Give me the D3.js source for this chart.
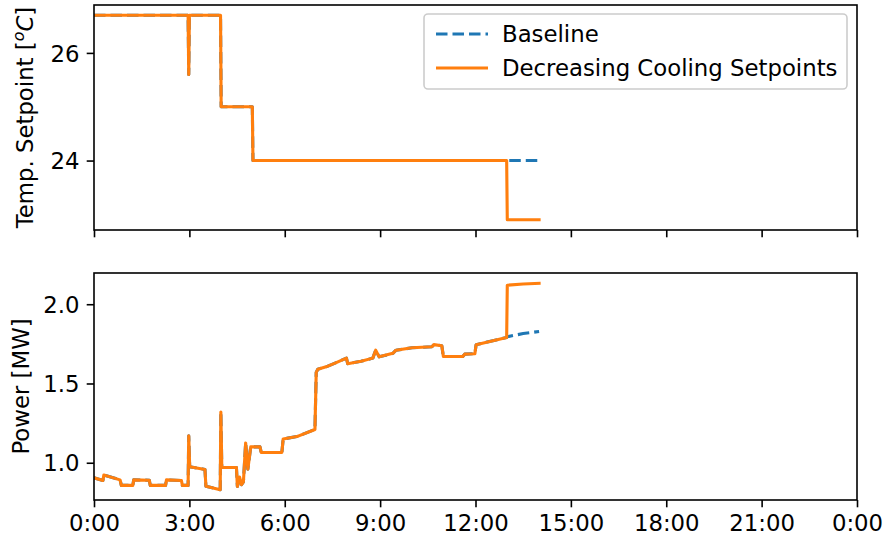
<!DOCTYPE html>
<html>
<head>
<meta charset="utf-8">
<script src="https://cdn.jsdelivr.net/npm/d3@7"></script>
<style>
  body { margin: 0; background: #fff; }
  svg { display: block; font-family: "DejaVu Sans", sans-serif; }
</style>
</head>
<body>
<svg id="chart" width="887" height="540"></svg>
<script>
// ---- data (time in hours since 0:00) ----
const xTickHours = [0, 3, 6, 9, 12, 15, 18, 21, 24];
const xTickLabels = ["0:00", "3:00", "6:00", "9:00", "12:00", "15:00", "18:00", "21:00", "0:00"];
const setpointTicks = [24, 26];
const powerTicks = [1.0, 1.5, 2.0];

const setpointTimesBaseline = [0, 2.96, 2.98, 3.0, 3.98, 4.0, 4.98, 5.0, 13.0, 14.0];
const setpointBaseline      = [26.7, 26.7, 25.6, 26.7, 26.7, 25.0, 25.0, 24.0, 24.0, 24.0];
const setpointTimesDecreasing = [0, 2.96, 2.98, 3.0, 3.98, 4.0, 4.98, 5.0, 12.98, 13.0, 14.0];
const setpointDecreasing      = [26.7, 26.7, 25.6, 26.7, 26.7, 25.0, 25.0, 24.0, 24.0, 22.9, 22.9];

const powerTimes = [0.00, 0.28, 0.31, 0.82, 0.86, 1.22, 1.25, 1.74, 1.77, 2.25, 2.28, 2.75, 2.78, 2.96,
  2.98, 3.01, 3.49, 3.52, 3.97, 3.99, 4.02, 4.48, 4.51, 4.58, 4.64, 4.70, 4.77, 4.84, 4.93, 5.22,
  5.26, 5.91, 5.95, 6.38, 6.95, 6.99, 7.04, 7.30, 7.60, 7.94, 7.98, 8.40, 8.77, 8.86, 8.97, 9.40,
  9.50, 10.00, 10.63, 10.69, 10.94, 10.99, 11.60, 11.66, 11.98, 12.02, 12.98];
const powerShared = [0.905, 0.888, 0.922, 0.892, 0.857, 0.857, 0.892, 0.890, 0.857, 0.857, 0.892, 0.888, 0.857, 0.857,
  1.17, 0.975, 0.958, 0.852, 0.830, 1.32, 0.970, 0.970, 0.850, 0.910, 0.862, 0.880, 1.125, 0.960, 1.100, 1.100,
  1.065, 1.065, 1.150, 1.165, 1.210, 1.570, 1.590, 1.605, 1.630, 1.660, 1.625, 1.640, 1.660, 1.710, 1.668, 1.690,
  1.710, 1.725, 1.732, 1.745, 1.738, 1.670, 1.670, 1.685, 1.688, 1.745, 1.790];
const tailTimes = [13.0, 13.5, 14.0];
const powerBaselineTail = [1.795, 1.815, 1.828];
const powerDecreasingTail = [2.12, 2.128, 2.132];

const seriesNames = ["Baseline", "Decreasing Cooling Setpoints"];
const seriesColors = ["#1f77b4", "#ff7f0e"];

// ---- build series ----
const zip = (t, v) => t.map((d, i) => [d, v[i]]);
const spBase = zip(setpointTimesBaseline, setpointBaseline);
const spDec = zip(setpointTimesDecreasing, setpointDecreasing);
const pwShared = zip(powerTimes, powerShared);
const pwBase = pwShared.concat(zip(tailTimes, powerBaselineTail));
const pwDec = pwShared.concat(zip(tailTimes, powerDecreasingTail));

// ---- layout ----
const svg = d3.select("#chart");
const left = 94, right = 857;
const topPanel = { y0: 5, y1: 230 };
const botPanel = { y0: 273, y1: 500 };
const FS = 22.8;
const lw = 3.1;
const spineW = 1.6;
const tickLen = 7.3;

const x = d3.scaleLinear().domain([0, 24]).range([left, right]);
const yTop = d3.scaleLinear().domain([22.71, 26.89]).range([topPanel.y1, topPanel.y0]);
const yBot = d3.scaleLinear().domain([0.765, 2.197]).range([botPanel.y1, botPanel.y0]);

const line = (ys) => d3.line().x(d => x(d[0])).y(d => ys(d[1]));

function drawPanel(panel, ys, yTicks, yFmt, base, dec, showXLabels) {
  const g = svg.append("g");
  const clipId = "clip" + panel.y0;
  svg.append("clipPath").attr("id", clipId).append("rect")
    .attr("x", left).attr("y", panel.y0).attr("width", right - left).attr("height", panel.y1 - panel.y0);

  const lines = g.append("g").attr("clip-path", `url(#${clipId})`);
  lines.append("path").datum(base).attr("d", line(ys))
    .attr("fill", "none").attr("stroke", seriesColors[0]).attr("stroke-width", lw)
    .attr("stroke-dasharray", "11.5,5").attr("stroke-linejoin", "round");
  lines.append("path").datum(dec).attr("d", line(ys))
    .attr("fill", "none").attr("stroke", seriesColors[1]).attr("stroke-width", lw)
    .attr("stroke-linejoin", "round").attr("stroke-linecap", "square");

  // x axis
  const xAxis = d3.axisBottom(x).tickValues(xTickHours)
    .tickFormat((d, i) => showXLabels ? xTickLabels[i] : "")
    .tickSizeInner(tickLen).tickSizeOuter(0).tickPadding(6.5);
  const gx = g.append("g").attr("transform", `translate(0,${panel.y1})`).call(xAxis);
  gx.select(".domain").remove();
  gx.selectAll("line").attr("stroke", "#000").attr("stroke-width", spineW);
  gx.selectAll("text").attr("font-size", FS).attr("fill", "#000")
    .attr("font-family", "DejaVu Sans").attr("dy", "0.74em");

  // y axis
  const yAxis = d3.axisLeft(ys).tickValues(yTicks).tickFormat(yFmt)
    .tickSizeInner(tickLen).tickSizeOuter(0).tickPadding(7.3);
  const gy = g.append("g").attr("transform", `translate(${left},0)`).call(yAxis);
  gy.select(".domain").remove();
  gy.selectAll("line").attr("stroke", "#000").attr("stroke-width", spineW);
  gy.selectAll("text").attr("font-size", FS).attr("fill", "#000")
    .attr("font-family", "DejaVu Sans").attr("dy", "0.36em");

  // frame
  g.append("rect").attr("x", left).attr("y", panel.y0)
    .attr("width", right - left).attr("height", panel.y1 - panel.y0)
    .attr("fill", "none").attr("stroke", "#000").attr("stroke-width", spineW);
}

drawPanel(topPanel, yTop, setpointTicks, d3.format("d"), spBase, spDec, false);
drawPanel(botPanel, yBot, powerTicks, d3.format(".1f"), pwBase, pwDec, true);

// y labels
const topMid = (topPanel.y0 + topPanel.y1) / 2;
const tl = svg.append("text")
  .attr("transform", `translate(32.5,${topMid}) rotate(-90)`)
  .attr("text-anchor", "middle").attr("font-size", FS).attr("fill", "#000");
tl.append("tspan").text("Temp. Setpoint [");
tl.append("tspan").attr("font-style", "italic").attr("font-size", FS * 0.7).attr("dy", -9).text("o");
tl.append("tspan").attr("font-style", "italic").attr("dy", 9).text("C");
tl.append("tspan").text("]");

const botMid = (botPanel.y0 + botPanel.y1) / 2;
svg.append("text")
  .attr("transform", `translate(29,${botMid}) rotate(-90)`)
  .attr("text-anchor", "middle").attr("font-size", FS).attr("fill", "#000")
  .text("Power [MW]");

// legend
const leg = svg.append("g");
leg.append("rect").attr("x", 424).attr("y", 14).attr("width", 423).attr("height", 75)
  .attr("rx", 4).attr("ry", 4)
  .attr("fill", "#fff").attr("fill-opacity", 0.8)
  .attr("stroke", "#cccccc").attr("stroke-width", 1.6);
const legRows = [34, 68];
seriesNames.forEach((name, i) => {
  leg.append("line").attr("x1", 436).attr("x2", 488)
    .attr("y1", legRows[i]).attr("y2", legRows[i])
    .attr("stroke", seriesColors[i]).attr("stroke-width", lw)
    .attr("stroke-dasharray", i === 0 ? "11.5,5" : null);
  leg.append("text").attr("x", 502).attr("y", legRows[i]).attr("dy", "0.36em")
    .attr("font-size", FS).attr("fill", "#000").text(name);
});
</script>
</body>
</html>
